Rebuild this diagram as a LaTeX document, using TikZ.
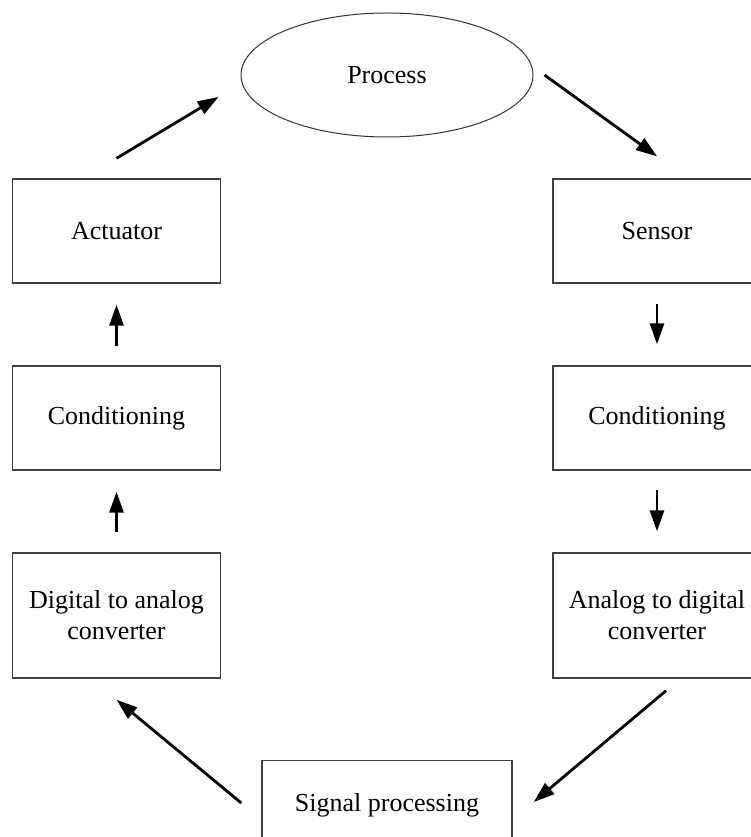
\documentclass[tikz,border=0pt]{standalone}
\usepackage{fontspec}
\setmainfont{Liberation Serif}
\usetikzlibrary{shapes.geometric,arrows.meta}

\tikzset{
  blockbox/.style={draw=black!75, line width=1.4pt, rectangle, inner sep=0pt,
    minimum width=208pt, align=center,
    font=\fontsize{26}{31}\selectfont},
  procshape/.style={draw=black!80, line width=1pt, ellipse, inner sep=0pt,
    minimum width=292pt, minimum height=124pt,
    font=\fontsize{26}{31}\selectfont},
  flow/.style={line width=2.8pt, -{Triangle[length=21pt,width=14pt]}}
}

\begin{document}
\begin{tikzpicture}[x=1pt, y=-1pt]
  \useasboundingbox (0,0) rectangle (751,837);
  \fill[white] (0,0) rectangle (751,837);
  \clip (0,0) rectangle (751,837);

  % process under control
  \node[procshape] (proc) at (387,75) {Process};

  % output chain (left column)
  \node[blockbox, minimum height=104pt] (act)   at (116.5,231)   {Actuator};
  \node[blockbox, minimum height=104pt] (condl) at (116.5,418)   {Conditioning};
  \node[blockbox, minimum height=125pt] (dac)   at (116.5,615.5) {Digital to analog\\converter};

  % input chain (right column)
  \node[blockbox, minimum height=104pt] (sens)  at (657,231)   {Sensor};
  \node[blockbox, minimum height=104pt] (condr) at (657,418)   {Conditioning};
  \node[blockbox, minimum height=125pt] (adc)   at (657,615.5) {Analog to digital\\converter};

  % processing unit at the bottom
  \node[blockbox, minimum width=250pt, text height=51pt, text depth=60pt,
        anchor=north] (sp) at (387,760) {Signal processing};

  % signal flow around the loop
  \draw[flow] ([yshift=20pt]act.north) -- ([xshift=-22pt,yshift=-22pt]proc.west);
  \draw[flow] ([xshift=11pt]proc.east) -- ([yshift=22pt]sens.north);
  \draw[flow] ([yshift=-20pt]sens.south) -- ([yshift=21pt]condr.north);
  \draw[flow] ([yshift=-19pt]condr.south) -- ([yshift=21pt]adc.north);
  \draw[flow] ([xshift=9pt,yshift=-12pt]adc.south) -- ([xshift=21pt,yshift=-42pt]sp.north east);
  \draw[flow] ([xshift=-20pt,yshift=-43pt]sp.north west) -- ([yshift=-21pt]dac.south);
  \draw[flow] ([yshift=20pt]dac.north) -- ([yshift=-21pt]condl.south);
  \draw[flow] ([yshift=19pt]condl.north) -- ([yshift=-21pt]act.south);
\end{tikzpicture}
\end{document}
